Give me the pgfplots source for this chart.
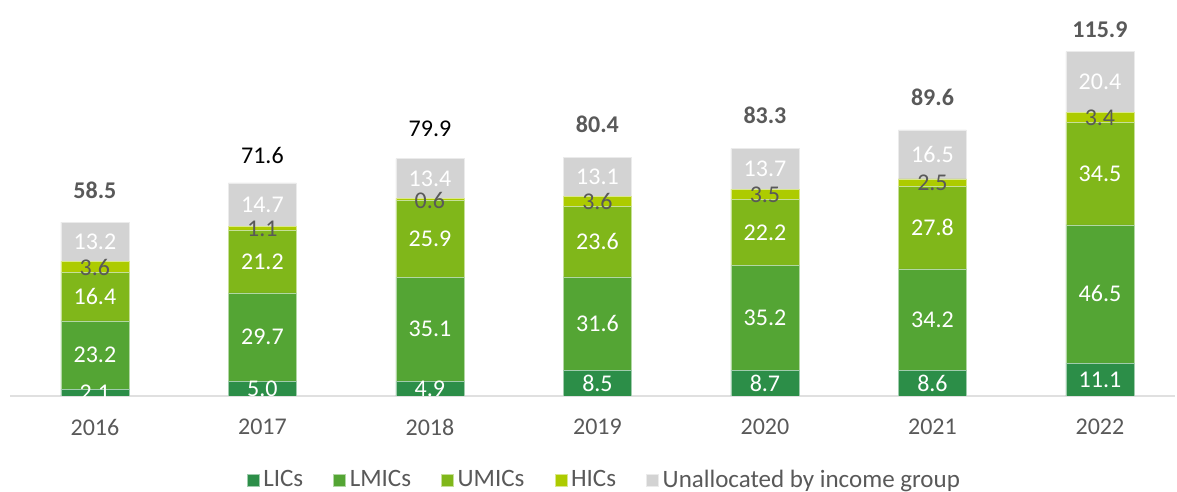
\documentclass[border=0pt]{standalone}
\usepackage{pgfplots}
\pgfplotsset{compat=1.18}
\usepackage{fontspec}
\setmainfont{Carlito}
\definecolor{cLIC}{HTML}{2C8E48}
\definecolor{cLMIC}{HTML}{54A534}
\definecolor{cUMIC}{HTML}{80B71A}
\definecolor{cHIC}{HTML}{ADCB00}
\definecolor{cUNA}{HTML}{D3D3D3}
\definecolor{tgray}{HTML}{595959}

\pgfplotsset{
  frame/.style={
    at={(5pt,48pt)}, anchor=south west,
    width=582.5pt, height=198pt, scale only axis,
    xmin=-0.507, xmax=6.448, ymin=0, ymax=133.3,
  },
  seg/.style={draw=white!55!#1, line width=0.3pt, fill=#1},
  lab/.style={draw=none, mark=none, nodes near coords, point meta=explicit,
    every node near coord/.style={anchor=center, text=#1,
      font=\fontsize{12}{14}\selectfont}},
}

\begin{document}
\begin{tikzpicture}[x=1pt,y=1pt]
\useasboundingbox (0,0) rectangle (588.5,246);
\begin{axis}[
  frame,
  ybar stacked, bar width=34pt,
  axis x line*=bottom, axis y line=none,
  x axis line style={draw=black!12, -, line width=0.8pt},
  xtick={0,...,6},
  xticklabels={2016,2017,2018,2019,2020,2021,2022},
  major tick length=0pt,
  xticklabel style={font=\fontsize{12}{14}\selectfont, text=tgray, yshift=-8pt},
  legend style={at={(axis description cs:0.511,-0.212)}, anchor=center,
    draw=none, legend columns=-1, font=\fontsize{12.5}{14}\selectfont, text=tgray,
    /tikz/every even column/.append style={column sep=13pt}},
  legend image code/.code={\fill[#1] (0pt,-3pt) rectangle (6pt,3pt);},
]
\addplot[seg=cLIC] coordinates {(0,2.1) (1,5.0) (2,4.9) (3,8.5) (4,8.7) (5,8.6) (6,11.1)};
\addlegendentry{LICs}
\addplot[seg=cLMIC] coordinates {(0,23.2) (1,29.7) (2,35.1) (3,31.6) (4,35.2) (5,34.2) (6,46.5)};
\addlegendentry{LMICs}
\addplot[seg=cUMIC] coordinates {(0,16.4) (1,21.2) (2,25.9) (3,23.6) (4,22.2) (5,27.8) (6,34.5)};
\addlegendentry{UMICs}
\addplot[seg=cHIC] coordinates {(0,3.6) (1,1.1) (2,0.6) (3,3.6) (4,3.5) (5,2.5) (6,3.4)};
\addlegendentry{HICs}
\addplot[seg=cUNA] coordinates {(0,13.2) (1,14.7) (2,13.4) (3,13.1) (4,13.7) (5,16.5) (6,20.4)};
\addlegendentry{Unallocated by income group}
\end{axis}
% value labels: (year, middle of segment) [value]
\begin{axis}[frame, hide axis,
  /pgf/number format/.cd, fixed, fixed zerofill, precision=1, assume math mode=true]
\addplot[lab=white] coordinates {(0,1.05)[2.1] (1,2.5)[5.0] (2,2.45)[4.9] (3,4.25)[8.5]
  (4,4.35)[8.7] (5,4.3)[8.6] (6,5.55)[11.1]};
\addplot[lab=white] coordinates {(0,13.7)[23.2] (1,19.85)[29.7] (2,22.45)[35.1] (3,24.3)[31.6]
  (4,26.3)[35.2] (5,25.7)[34.2] (6,34.35)[46.5]};
\addplot[lab=white] coordinates {(0,33.5)[16.4] (1,45.3)[21.2] (2,52.95)[25.9] (3,51.9)[23.6]
  (4,55.0)[22.2] (5,56.7)[27.8] (6,74.85)[34.5]};
\addplot[lab=tgray] coordinates {(0,43.3)[3.6] (1,56.3)[1.1] (2,65.9)[0.6] (3,65.5)[3.6]
  (4,67.85)[3.5] (5,71.6)[2.5] (6,93.6)[3.4]};
\addplot[lab=white] coordinates {(0,51.9)[13.2] (1,64.35)[14.7] (2,73.2)[13.4] (3,73.85)[13.1]
  (4,76.45)[13.7] (5,81.35)[16.5] (6,105.7)[20.4]};
\addplot[draw=none, mark=none, nodes near coords, point meta=explicit symbolic,
  every node near coord/.style={anchor=center, text=tgray, font=\fontsize{12}{14}\selectfont}]
  coordinates {(0,69.4)[\textbf{58.5}] (1,81.1)[{\color{black}71.6}] (2,90.1)[{\color{black}79.9}]
  (3,91.4)[\textbf{80.4}] (4,94.4)[\textbf{83.3}] (5,100.5)[\textbf{89.6}] (6,123.4)[\textbf{115.9}]};
\end{axis}
\end{tikzpicture}
\end{document}
